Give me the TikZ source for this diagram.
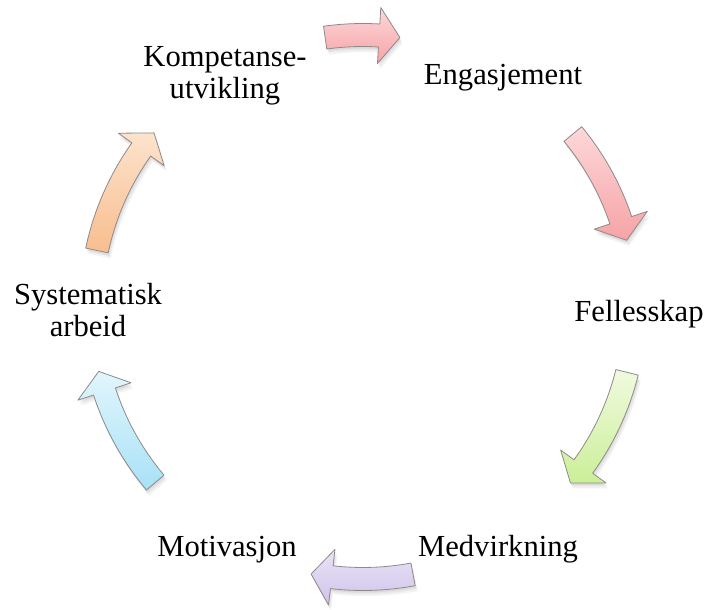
\documentclass[tikz,border=0pt]{standalone}
\usepackage{fontspec}
\setmainfont{Liberation Serif}
\newfontfamily\stagefont{Liberation Serif}
\definecolor{arrowline}{HTML}{8E8A8A}
\definecolor{pinkA}{HTML}{FDD8DA}
\definecolor{pinkB}{HTML}{F6A3A6}
\definecolor{greenA}{HTML}{F0FADF}
\definecolor{greenB}{HTML}{CBEF98}
\definecolor{lilacA}{HTML}{EAE3F6}
\definecolor{lilacB}{HTML}{CFC3EA}
\definecolor{blueA}{HTML}{E1F6FD}
\definecolor{blueB}{HTML}{A8E1F6}
\definecolor{orangeA}{HTML}{FDE3CD}
\definecolor{orangeB}{HTML}{F8BD8E}

% curved block arrow on the ring: #1 tail angle, #2 tip angle (clockwise)
\newcommand\arrowpath[2]{%
  (#1:283.5) arc[start angle=#1, end angle={#2+4.4}, radius=283.5]
  -- ({#2+4.4}:300) -- (#2:272) -- ({#2+4.4}:244) -- ({#2+4.4}:260.5)
  arc[start angle={#2+4.4}, end angle=#1, radius=260.5] -- cycle}
\newcommand\cyclearrow[4]{%
  \fill[black, opacity=0.05, shift={(0.5,-2)}] \arrowpath{#1}{#2};
  \fill[black, opacity=0.05, shift={(1.5,-3.5)}] \arrowpath{#1}{#2};
  \fill[black, opacity=0.05, shift={(2.5,-5.5)}] \arrowpath{#1}{#2};
  \path[cyc, top color=#3, bottom color=#4] \arrowpath{#1}{#2};
}

\begin{document}
\begin{tikzpicture}[x=1pt, y=1pt,
  lbl/.style={inner sep=0pt, font=\stagefont\fontsize{30.6}{32}\selectfont, align=center, anchor=base},
  cyc/.style={draw=arrowline, line width=0.8pt, line join=round}]
\useasboundingbox (0,0) rectangle (709,610);
\coordinate (C) at (363,303);

% stages of the cycle (base anchor sits on the last line)
\node[lbl] (komp)  at (225,511) {Kompetanse-\\utvikling};
\node[lbl] (eng)   at (503,525) {Engasjement};
\node[lbl] (fell)  at (639,288) {Fellesskap};
\node[lbl] (medv)  at (498,53)  {Medvirkning};
\node[lbl] (motiv) at (227,53)  {Motivasjon};
\node[lbl] (syst)  at (88,273)  {Systematisk\\arbeid};

% arrows between the stages
\begin{scope}[shift={(C)}]
  \cyclearrow{98}{82.2}{pinkA}{pinkB}
  \cyclearrow{39.5}{14.2}{pinkA}{pinkB}
  \cyclearrow{-13.9}{-40.3}{greenA}{greenB}
  \cyclearrow{-79.4}{-101}{lilacA}{lilacB}
  \cyclearrow{220.2}{193.7}{blueA}{blueB}
  \cyclearrow{168}{140.2}{orangeA}{orangeB}
\end{scope}
\end{tikzpicture}
\end{document}
